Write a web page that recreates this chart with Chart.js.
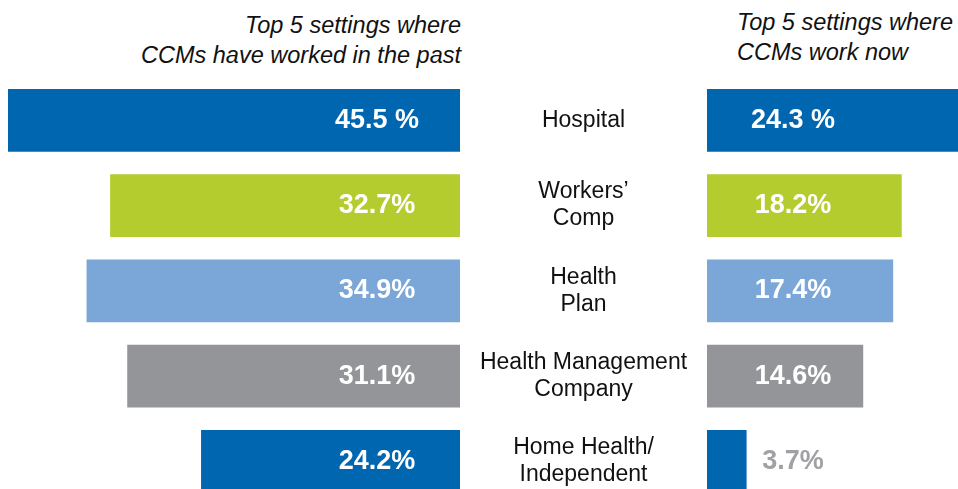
<!DOCTYPE html>
<html>
<head>
<meta charset="utf-8">
<script src="https://cdn.jsdelivr.net/npm/chart.js@4.4.1/dist/chart.umd.min.js"></script>
<style>
    html, body { margin: 0; padding: 0; width: 958px; height: 489px; overflow: hidden; background: #fff; }
    #wrap { position: relative; width: 958px; height: 489px; }
    canvas { position: absolute; top: 0; }
    #leftChart { left: 0; }
    #rightChart { left: 707px; }
    .title { position: absolute; font: italic 23.5px "Liberation Sans", Arial, sans-serif; line-height: 30px; color: #111; white-space: nowrap; }
    #titleLeft { right: 497px; top: 10px; text-align: right; }
    #titleRight { left: 737px; top: 7px; text-align: left; }
</style>
</head>
<body>
<div id="wrap">
    <div class="title" id="titleLeft">Top 5 settings where<br>CCMs have worked in the past</div>
    <div class="title" id="titleRight">Top 5 settings where<br>CCMs work now</div>
    <canvas id="leftChart" width="707" height="504"></canvas>
    <canvas id="rightChart" width="251" height="504"></canvas>
</div>
<script>
const settings = ['Hospital', ['Workers’', 'Comp'], ['Health', 'Plan'], ['Health Management', 'Company'], ['Home Health/', 'Independent']];
const pastValues = [45.5, 32.7, 34.9, 31.1, 24.2];
const nowValues = [24.3, 18.2, 17.4, 14.6, 3.7];
const barColors = ['#0066b0', '#b5cc2e', '#7ba7d8', '#949599', '#0066b0'];

const FONT = '"Liberation Sans", Arial, sans-serif';
const PX_PER_UNIT = 10.7;

document.addEventListener("DOMContentLoaded", function () {
    const ctxL = document.getElementById('leftChart').getContext('2d');
    const ctxR = document.getElementById('rightChart').getContext('2d');

    // width of the widest category label, so the labels sit centred in the gap
    ctxL.font = '23px ' + FONT;
    const widest = ctxL.measureText('Health Management').width;
    const axisWidth = 247;

    function fmt(v, i) {
        return v.toFixed(1) + (i === 0 ? ' %' : '%');
    }

    // value text drawn on top of each bar
    const valueLabels = {
        id: 'valueLabels',
        afterDatasetsDraw(chart, args, opts) {
            const c = chart.ctx;
            const meta = chart.getDatasetMeta(0);
            const zero = chart.scales.x.getPixelForValue(0);
            const values = chart.data.datasets[0].data;
            c.save();
            c.font = 'bold 27px ' + FONT;
            c.textAlign = 'center';
            c.textBaseline = 'middle';
            meta.data.forEach((bar, i) => {
                const w = Math.abs(bar.x - bar.base);
                c.fillStyle = w < 60 ? '#a0a1a4' : '#ffffff';
                c.fillText(fmt(values[i], i), zero + opts.offset, bar.y);
            });
            c.restore();
        }
    };

    const common = {
        indexAxis: 'y',
        responsive: false,
        animation: false,
        events: [],
        plugins: { legend: { display: false }, tooltip: { enabled: false } }
    };

    new Chart(ctxL, {
        type: 'bar',
        data: {
            labels: settings,
            datasets: [{
                data: pastValues,
                backgroundColor: barColors,
                borderWidth: 0,
                categoryPercentage: 1,
                barPercentage: 0.735,
                clip: 0
            }]
        },
        options: {
            ...common,
            layout: { padding: { left: 8, top: 77.7, right: 0, bottom: 0 } },
            plugins: { ...common.plugins, valueLabels: { offset: -83 } },
            scales: {
                x: { display: false, reverse: true, min: 0, max: 452 / PX_PER_UNIT },
                y: {
                    position: 'right',
                    grid: { display: false, drawTicks: false },
                    border: { display: false },
                    afterFit: function (scale) {
                        scale.width = axisWidth;
                        scale.paddingTop = 0;
                        scale.paddingBottom = 0;
                    },
                    ticks: {
                        autoSkip: false,
                        crossAlign: 'center',
                        padding: (axisWidth - widest) / 2,
                        color: '#111',
                        font: { family: FONT, size: 23, lineHeight: 1.17 }
                    }
                }
            }
        },
        plugins: [valueLabels]
    });

    new Chart(ctxR, {
        type: 'bar',
        data: {
            labels: settings,
            datasets: [{
                data: nowValues,
                backgroundColor: barColors,
                borderWidth: 0,
                categoryPercentage: 1,
                barPercentage: 0.735,
                clip: 0
            }]
        },
        options: {
            ...common,
            layout: { padding: { left: 0, top: 77.7, right: 0, bottom: 0 } },
            plugins: { ...common.plugins, valueLabels: { offset: 86 } },
            scales: {
                x: { display: false, min: 0, max: 251 / PX_PER_UNIT },
                y: { display: false }
            }
        },
        plugins: [valueLabels]
    });
});
</script>
</body>
</html>
